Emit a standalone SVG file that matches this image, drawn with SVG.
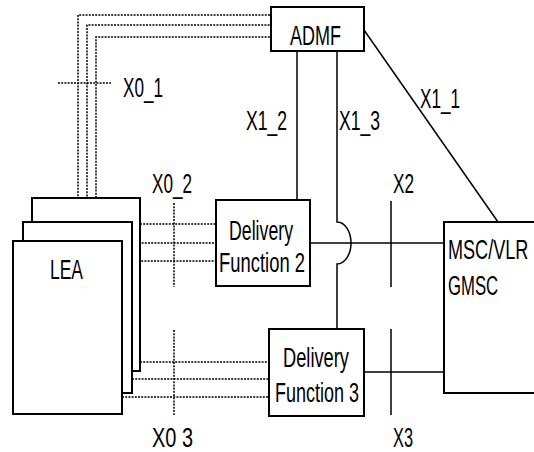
<svg xmlns="http://www.w3.org/2000/svg" width="534" height="452" viewBox="0 0 534 452">
<style>
.box{fill:#fff;stroke:#000;stroke-width:2}
.ln{fill:none;stroke:#000;stroke-width:1.5}
.dot{fill:none;stroke:#000;stroke-width:1.5;stroke-dasharray:2 1.2}
text{font-family:"Liberation Sans",Arial,sans-serif;font-size:27px;fill:#000}
</style>
<rect width="534" height="452" fill="#fff"/>
<g id="connectors">
<path class="dot" d="M78,241 V15 H271"/>
<path class="dot" d="M87,222 V25 H271"/>
<path class="dot" d="M96,198 V37 H271"/>
<path class="dot" d="M140,224 H216"/>
<path class="dot" d="M132,243 H216"/>
<path class="dot" d="M122,261 H216"/>
<path class="dot" d="M140,362 H269"/>
<path class="dot" d="M132,379 H269"/>
<path class="dot" d="M122,397 H269"/>
<path class="dot" d="M58,83 H111"/>
<path class="dot" d="M174,203 V287"/>
<path class="dot" d="M174,330 V415"/>
<path class="ln" d="M297,51 V200"/>
<path class="ln" d="M337,51 V222 A14,21 0 0 1 337,264 V329"/>
<path class="ln" d="M364,30 L498,222"/>
<path class="ln" d="M310,243 H444"/>
<path class="ln" d="M364,372 H444"/>
<path class="ln" d="M391,201 V287"/>
<path class="ln" d="M391,329 V415"/>
</g>
<g id="labels">
<text x="123" y="97" textLength="40" lengthAdjust="spacingAndGlyphs">X0_1</text>
<text x="152" y="193" textLength="40" lengthAdjust="spacingAndGlyphs">X0_2</text>
<text x="152" y="447" textLength="41" lengthAdjust="spacingAndGlyphs">X0 3</text>
<text x="246" y="130" textLength="41" lengthAdjust="spacingAndGlyphs">X1_2</text>
<text x="339" y="130" textLength="41" lengthAdjust="spacingAndGlyphs">X1_3</text>
<text x="420" y="108" textLength="40" lengthAdjust="spacingAndGlyphs">X1_1</text>
<text x="393" y="193" textLength="21" lengthAdjust="spacingAndGlyphs">X2</text>
<text x="393" y="447" textLength="20" lengthAdjust="spacingAndGlyphs">X3</text>
</g>
<g id="ADMF">
<rect class="box" x="271" y="7" width="93" height="44"/>
<text x="290" y="45" textLength="51" lengthAdjust="spacingAndGlyphs">ADMF</text>
</g>
<g id="LEA">
<rect class="box" x="32" y="198" width="108" height="173"/>
<rect class="box" x="23" y="222" width="109" height="171"/>
<rect class="box" x="13" y="241" width="109" height="173"/>
<text x="50" y="279" textLength="33" lengthAdjust="spacingAndGlyphs">LEA</text>
</g>
<g id="DF2">
<rect class="box" x="216" y="200" width="94" height="86"/>
<text x="229" y="240" textLength="64" lengthAdjust="spacingAndGlyphs">Delivery</text>
<text x="219" y="272" textLength="86" lengthAdjust="spacingAndGlyphs">Function 2</text>
</g>
<g id="DF3">
<rect class="box" x="269" y="329" width="95" height="87"/>
<text x="283" y="367" textLength="66" lengthAdjust="spacingAndGlyphs">Delivery</text>
<text x="275" y="402" textLength="84" lengthAdjust="spacingAndGlyphs">Function 3</text>
</g>
<g id="MSC">
<path class="box" d="M534,222 H444 V393 H534"/>
<text transform="translate(448,259) scale(0.67,1)">MSC/VLR</text>
<text transform="translate(448,295) scale(0.62,1)">GMSC</text>
</g>
</svg>
